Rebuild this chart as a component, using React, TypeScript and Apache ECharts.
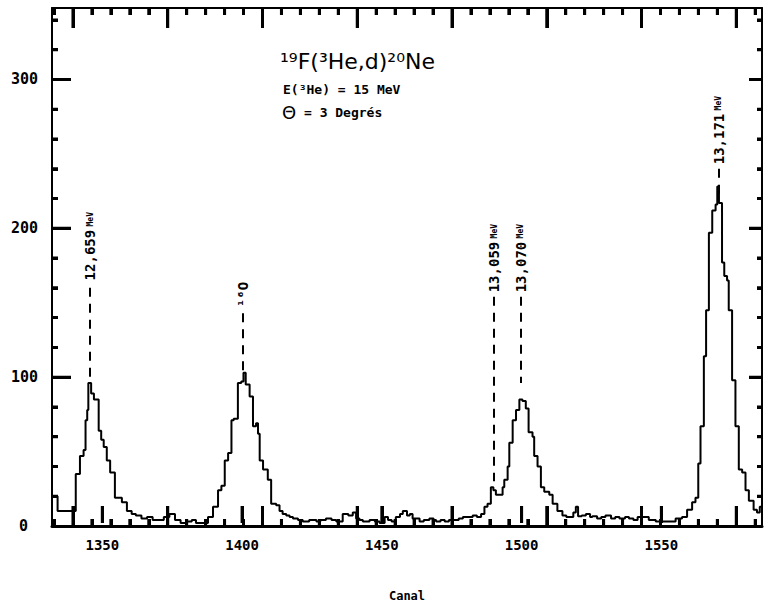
import React, { useEffect, useRef } from "react";
import * as echarts from "echarts";

// Spectrum: channel where each plateau starts, and its counts
const channels = [
  1332, 1334, 1340.5, 1342, 1343.3, 1344, 1344.6, 1345, 1346, 1347, 1348.7, 1349.6, 1350.5, 1351.6, 1352.8,
  1354.5, 1357, 1358.8, 1360.5, 1362, 1364, 1366, 1368, 1370, 1372, 1374, 1376, 1378, 1380, 1382, 1383.5,
  1386, 1387.8, 1389.6, 1391.4, 1392.6, 1393.8, 1395, 1396.2, 1397, 1398.5, 1399.7, 1400.5, 1401.3, 1402.7,
  1403.9, 1405, 1405.7, 1406.3, 1407.5, 1409.2, 1410.4, 1412.2, 1413.4, 1414.5, 1415.8, 1417, 1418.2, 1420,
  1421.7, 1424, 1426.6, 1428, 1430, 1432, 1433.7, 1436, 1438, 1439.6, 1440.8, 1442, 1443.2, 1445.6, 1447.5,
  1449.2, 1451, 1452.2, 1453.5, 1455, 1456.5, 1457.5, 1459, 1460, 1461, 1462.3, 1463.5, 1465, 1467,
  1468.5, 1469.4, 1471, 1472.5, 1474, 1476, 1477.5, 1479, 1481, 1482.5, 1484, 1485.5, 1486.7, 1487.8, 1489,
  1489.9, 1490.8, 1493.2, 1493.8, 1495, 1495.6, 1496.8, 1498, 1499.2, 1500.3, 1501.5, 1502.5, 1503.9, 1504.5,
  1505.7, 1506.9, 1508.1, 1509.9, 1511.1, 1512.8, 1514.6, 1516, 1517, 1518.5, 1519.4, 1520.2, 1521.5, 1523,
  1524.5, 1525.3, 1527, 1528.5, 1530, 1532, 1533.5, 1535, 1537, 1538.4, 1540, 1541.5, 1543.2, 1545.5, 1548,
  1550.3, 1552.5, 1555.1, 1557.4, 1559.2, 1561, 1562.2, 1563.2, 1564, 1565.2, 1566, 1567, 1568.2, 1569.4,
  1570, 1570.6, 1571.7, 1572.5, 1573.5, 1574.1, 1575.3, 1576.5, 1577.7, 1578.9, 1580.1, 1581.3, 1583, 1584.2,
  1585.2, 1586,
];
const counts = [
  20, 10, 35, 47, 51, 71, 78, 96, 89, 85, 64, 58, 53, 44, 36,
  19, 16, 10, 8, 7, 5, 6, 4, 4, 6, 8, 4, 2, 3, 4, 2,
  2, 6, 13, 24, 27, 44, 49, 71, 72, 96, 97, 103, 95, 87,
  67, 69, 62, 44, 38, 31, 15, 14, 10, 8, 7, 6, 5, 4,
  3, 4, 3, 4, 5, 4, 3, 8, 7, 9, 5, 4, 3, 4, 3,
  2, 6, 4, 3, 6, 8, 10, 7, 8, 5, 5, 3, 4, 5,
  4, 3, 4, 3, 4, 4, 5, 6, 6, 7, 6, 8, 13, 15, 26,
  24, 21, 26, 31, 40, 56, 71, 78, 85, 84, 79, 63, 60, 47,
  40, 26, 23, 21, 15, 10, 7, 6, 6, 9, 13, 6.5, 7, 8,
  6, 6.5, 5, 6, 7, 5, 6, 5, 6, 5, 4, 6, 6, 4, 3,
  3, 3, 5, 6, 11, 16, 19, 42, 67, 114, 145, 197, 212, 216,
  228, 217, 177, 168, 165, 145, 98, 67, 38, 36, 24, 17, 11, 9,
  13, 13,
];

const xTickLabels = [1350, 1400, 1450, 1500, 1550];
const yTickLabels = [0, 100, 200, 300];

// Peak annotations
const peakNames = ["12,659", "\u00B9\u2076O", "13,059", "13,070", "13,171"];
const peakUnits = ["MeV", "", "MeV", "MeV", "MeV"];
const peakChannels = [1345.6, 1400.2, 1490.2, 1499.7, 1570.6];
const peakLabelBase = [165, 147, 157, 157, 243];
const peakDashTop = [160, 143, 154, 154, 240];
const peakDashBottom = [100, 103, 30, 96, 222];

const titleLine1 = "\u00B9\u2079F(\u00B3He,d)\u00B2\u2070Ne";
const titleLine2 = "E(\u00B3He) = 15 MeV";
const titleLine3a = "\u0398";
const titleLine3b = " = 3 Degr\u00E9s";
const xName = "Canal";

const X_MIN = 1332;
const X_MAX = 1586;
const Y_MAX = 348;
const Y_MINOR_STEP = 20;
// secondary frame ticks (top & bottom)
const AUX_START = 1339.5;
const AUX_STEP = 33.9;

const FONT = "DejaVu Sans Mono";

const GRID = { left: 52, right: 3, top: 8, bottom: 89 };
const W = 765;
const H = 615;

export default function App() {
  const ref = useRef<HTMLDivElement>(null);
  useEffect(() => {
    if (!ref.current) return;
    const chart = echarts.init(ref.current, null, { renderer: "svg" });
    const black = "#000";

    const data = channels.map((c, i) => [c, counts[i]]);
    const dashData = peakChannels.map((c, i) => [
      { coord: [c, peakDashTop[i]] },
      { coord: [c, peakDashBottom[i]] },
    ]);

    // tick lengths expressed in data units of the axes
    const cPerPx = (X_MAX - X_MIN) / (W - GRID.left - GRID.right);
    const vPerPx = Y_MAX / (H - GRID.top - GRID.bottom);
    const segs: number[][][] = [];
    for (let v = Y_MINOR_STEP; v <= Y_MAX; v += Y_MINOR_STEP) {
      const major = v % 100 === 0;
      segs.push([[X_MIN, v], [X_MIN + (major ? 19 : 6) * cPerPx, v]]);
      segs.push([[X_MAX, v], [X_MAX - (major ? 13 : 5) * cPerPx, v]]);
    }
    xTickLabels.forEach((c) => segs.push([[c, 3 * vPerPx], [c, 20 * vPerPx]]));
    for (let k = -1; k < 60; k++) {
      const c = AUX_START + (k * AUX_STEP) / 5;
      if (c < X_MIN + 0.5 || c > X_MAX - 0.5) continue;
      const major = ((k % 5) + 5) % 5 === 0;
      const len = (major ? 20 : 7) * vPerPx;
      segs.push([[c, Y_MAX], [c, Y_MAX - len]]);
      segs.push([[c, 0], [c, len]]);
    }
    const tickLineData: any[] = [];
    segs.forEach((s) => {
      tickLineData.push(s[0], s[1], [s[1][0], "-"]);
    });

    chart.setOption({
      animation: false,
      backgroundColor: "#fff",
      grid: { ...GRID, show: false, containLabel: false },
      xAxis: [
        {
          type: "value",
          min: X_MIN,
          max: X_MAX,
          position: "bottom",
          name: xName,
          nameLocation: "middle",
          nameGap: 64,
          nameTextStyle: { fontFamily: FONT, fontSize: 12, color: black, fontWeight: "bold" },
          axisLine: { show: true, onZero: false, lineStyle: { color: black, width: 3 } },
          axisTick: { show: false },
          axisLabel: {
            customValues: xTickLabels,
            formatter: (v: number) => String(v),
            margin: 12,
            fontFamily: FONT,
            fontSize: 14,
            fontWeight: "bold",
            color: black,
          },
          splitLine: { show: false },
        },
        {
          type: "value",
          min: X_MIN,
          max: X_MAX,
          position: "top",
          axisLine: { show: true, onZero: false, lineStyle: { color: black, width: 2 } },
          axisTick: { show: false },
          axisLabel: { show: false },
          splitLine: { show: false },
        },
      ],
      yAxis: [
        {
          type: "value",
          min: 0,
          max: Y_MAX,
          interval: 100,
          position: "left",
          axisLine: { show: true, onZero: false, lineStyle: { color: black, width: 2 } },
          axisTick: { show: false },
          axisLabel: {
            customValues: yTickLabels,
            formatter: (v: number) => (v === 0 ? "{z|0}" : String(v)),
            margin: 14,
            fontFamily: FONT,
            fontSize: 15,
            fontWeight: "bold",
            color: black,
            rich: { z: { fontFamily: FONT, fontSize: 15, fontWeight: "bold", padding: [0, 10, 0, 0] } },
          },
          splitLine: { show: false },
        },
        {
          type: "value",
          min: 0,
          max: Y_MAX,
          interval: 100,
          position: "right",
          axisLine: { show: true, onZero: false, lineStyle: { color: black, width: 2 } },
          axisTick: { show: false },
          axisLabel: { show: false },
          splitLine: { show: false },
        },
      ],
      series: [
        {
          type: "line",
          name: "spectrum",
          xAxisIndex: 0,
          yAxisIndex: 0,
          data,
          step: "end",
          symbol: "none",
          lineStyle: { color: black, width: 2 },
          markLine: {
            silent: true,
            symbol: ["none", "none"],
            label: { show: false },
            lineStyle: { color: black, width: 2, type: [9, 7] },
            data: dashData,
          },
        },
        {
          type: "lines",
          name: "frameTicks",
          coordinateSystem: "cartesian2d",
          xAxisIndex: 0,
          yAxisIndex: 0,
          silent: true,
          z: 4,
          lineStyle: { color: black, width: 3, opacity: 1, curveness: 0 },
          data: segs.map((s) => ({ coords: s })),
        },
        {
          type: "line",
          name: "frameTicks2",
          xAxisIndex: 0,
          yAxisIndex: 0,
          silent: true,
          connectNulls: false,
          symbol: "none",
          z: 4,
          lineStyle: { color: black, width: 3 },
          data: tickLineData,
        },
      ],
    });

    const px = (x: number, y: number) =>
      chart.convertToPixel({ xAxisIndex: 0, yAxisIndex: 0 }, [x, y]) as number[];

    const graphics: any[] = [];
    peakChannels.forEach((c, i) => {
      const p = px(c, peakLabelBase[i]);
      const text = peakUnits[i] ? `{a|${peakNames[i]}} {b|${peakUnits[i]}}` : `{a|${peakNames[i]}}`;
      graphics.push({
        type: "text",
        x: p[0],
        y: p[1],
        rotation: Math.PI / 2,
        style: {
          text,
          align: "left",
          verticalAlign: "middle",
          fill: black,
          rich: {
            a: { fontFamily: FONT, fontSize: 14, fontWeight: "bold", fill: black },
            b: { fontFamily: FONT, fontSize: 8, fontWeight: "bold", fill: black },
          },
        },
      });
    });
    graphics.push(
      {
        type: "text",
        left: 280,
        top: 50,
        style: { text: titleLine1, fontFamily: "DejaVu Sans", fontSize: 22, fill: black },
      },
      {
        type: "text",
        left: 283,
        top: 83,
        style: { text: titleLine2, fontFamily: FONT, fontSize: 13, fontWeight: "bold", fill: black },
      },
      {
        type: "text",
        left: 282,
        top: 103,
        style: {
          text: `{t|${titleLine3a}}{r|${titleLine3b}}`,
          fill: black,
          rich: {
            t: { fontFamily: "DejaVu Sans", fontSize: 18, fill: black },
            r: { fontFamily: FONT, fontSize: 13, fontWeight: "bold", fill: black },
          },
        },
      }
    );
    chart.setOption({ graphic: graphics });

    return () => chart.dispose();
  }, []);

  return (
    <div
      ref={ref}
      style={{ position: "absolute", left: 0, top: 0, width: W, height: H, background: "#fff" }}
    />
  );
}
